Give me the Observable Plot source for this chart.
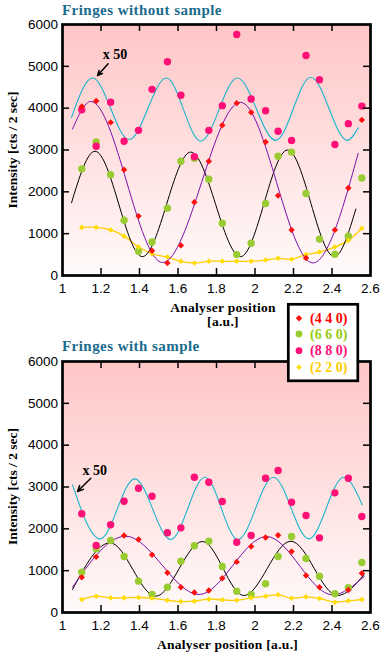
<!DOCTYPE html>
<html><head><meta charset="utf-8">
<script src="https://cdn.jsdelivr.net/npm/d3@7"></script>
<script src="https://cdn.jsdelivr.net/npm/@observablehq/plot@0.6"></script>
<style>
body{margin:0;background:#fff;}
#wrap{position:relative;width:384px;height:660px;overflow:hidden;}
#wrap svg{position:absolute;left:0;}
</style></head><body>
<div id="wrap"></div>
<script>
// ---------- data ----------
const xs = [1.10,1.175,1.25,1.32,1.395,1.465,1.545,1.615,1.685,1.76,1.83,1.905,1.98,2.055,2.12,2.19,2.265,2.335,2.415,2.485,2.555];
const xTicks = [1,1.2,1.4,1.6,1.8,2,2.2,2.4,2.6];
const yTicks = [0,1000,2000,3000,4000,5000,6000];

// Panel A: fringes without sample
const a440 = [4040,4170,3660,2530,1420,590,300,720,1750,2730,3590,4120,3900,3190,1910,1090,420,null,1090,2090,3720];
const a660 = [2550,3190,2410,1320,580,800,1610,2730,2800,2300,1250,500,770,1720,2850,2950,1960,870,510,940,2330];
const a880 = [3960,3090,4140,3210,3470,4450,5110,4310,2840,3470,4060,5760,4220,3940,3450,3230,5260,4680,3130,3630,4050];
const a220 = [1150,1150,1090,940,680,520,440,340,300,340,340,340,340,370,410,390,500,560,680,840,1130];
const aCyanX = [1.047,1.156,1.346,1.540,1.718,1.908,2.108,2.290,2.480,2.536];
const aCyanY = [3780,4720,3250,4720,3210,4720,3230,4740,3230,3530];
const aPurpX = [1.052,1.147,1.520,1.925,2.300,2.536];
const aPurpY = [3500,4160,310,4140,300,2920];
const aBlkX  = [1.047,1.169,1.415,1.666,1.925,2.169,2.412,2.524];
const aBlkY  = [1740,2970,450,2950,450,3000,450,1590];
const aNote = [{x:1.209, y:5290, label:"x 50", x1:1.237, y1:5060, x2:1.182, y2:4780}];

// Panel B: fringes with sample
const b440 = [840,1330,null,1840,1745,1380,950,605,478,526,820,1210,1577,1793,1848,1458,884,605,null,537,940];
const b660 = [964,1522,1721,1338,749,430,605,1226,1594,1704,1099,509,430,686,1338,1816,1291,868,447,590,1195];
const b880 = [2359,1601,2096,2660,2971,2780,1905,2024,3234,3115,2653,1681,1840,3210,3394,2637,2318,1785,2860,3210,2294];
const b220 = [311,390,350,350,359,342,294,263,271,318,303,294,350,390,422,342,374,335,246,279,311];
const bCyanX = [1.052,1.195,1.375,1.562,1.740,1.911,2.095,2.280,2.461,2.557];
const bCyanY = [3050,1760,3195,1745,3234,1745,3234,1760,3234,2574];
const bPurpX = [1.052,1.328,1.709,2.060,2.403,2.567];
const bPurpY = [605,1824,430,1816,423,860];
const bBlkX  = [1.052,1.247,1.484,1.727,1.942,2.186,2.429,2.567];
const bBlkY  = [550,1666,390,1697,406,1704,406,908];
const bNote = [{x:1.104, y:3390, label:"x 50", x1:1.147, y1:3210, x2:1.078, y2:2892}];

const legendLabels = ["(4 4 0)","(6 6 0)","(8 8 0)","(2 2 0)"];
const colors = {r440:"#ff1010", g660:"#99cc33", p880:"#ff1077", y220:"#ffdd00", y220line:"#ffcc00", cyan:"#1ab4cc", purple:"#7a10a8"};
const legendText = ["#ff0000","#99cc11","#ff1077","#ffcc00"];

// ---------- drawing ----------
const SERIF = '"Liberation Serif","Times New Roman",serif';
const pts = arr => xs.map((x,i)=>({x, y:arr[i]})).filter(d=>d.y!=null);
const crv = (cx,cy) => cx.map((x,i)=>({x, y:cy[i]}));

function panel(d, gid){
  const frameW = 384-62-14, frameH = 251;
  const svg = Plot.plot({
    width:384, height:300, marginTop:24, marginBottom:25, marginLeft:62, marginRight:14,
    x:{domain:[1,2.6]}, y:{domain:[0,6000]},
    style:{fontFamily:'"Liberation Sans",Arial,sans-serif', fontSize:"13.5px", color:"#000", background:"transparent", overflow:"visible"},
    marks:[
      Plot.frame({fill:`url(#${gid})`, stroke:null}),
      Plot.line(pts(d.y220), {x:"x", y:"y", stroke:colors.y220line, strokeWidth:1.3, curve:"catmull-rom"}),
      Plot.line(crv(d.blkX,d.blkY), {x:"x", y:"y", stroke:"#000", strokeWidth:1, curve:"monotone-x"}),
      Plot.line(crv(d.purpX,d.purpY), {x:"x", y:"y", stroke:colors.purple, strokeWidth:1, curve:"monotone-x"}),
      Plot.line(crv(d.cyanX,d.cyanY), {x:"x", y:"y", stroke:colors.cyan, strokeWidth:1.1, curve:"monotone-x"}),
      Plot.dot(pts(d.g660), {x:"x", y:"y", r:3.7, fill:colors.g660}),
      Plot.dot(pts(d.p880), {x:"x", y:"y", r:3.7, fill:colors.p880}),
      Plot.dot(pts(d.y220), {x:"x", y:"y", r:2.5, symbol:"diamond2", fill:colors.y220}),
      Plot.dot(pts(d.r440), {x:"x", y:"y", r:2.9, symbol:"diamond2", fill:colors.r440}),
      Plot.arrow(d.note, {x1:"x1", y1:"y1", x2:"x2", y2:"y2", stroke:"#000", strokeWidth:1.5, headLength:7, headAngle:50}),
      Plot.text(d.note, {x:"x", y:"y", text:"label", textAnchor:"start", fontFamily:SERIF, fontWeight:"bold", fontSize:14}),
      // inward ticks on all four sides
      Plot.tickX(xTicks.slice(1,-1), {x:d=>d, stroke:"#000", strokeWidth:1.5, insetTop:frameH-7}),
      Plot.tickX(xTicks.slice(1,-1), {x:d=>d, stroke:"#000", strokeWidth:1.5, insetBottom:frameH-7}),
      Plot.tickY(yTicks.slice(1,-1), {y:d=>d, stroke:"#000", strokeWidth:1.5, insetRight:frameW-7}),
      Plot.tickY(yTicks.slice(1,-1), {y:d=>d, stroke:"#000", strokeWidth:1.5, insetLeft:frameW-7}),
      Plot.frame({stroke:"#000", strokeWidth:2.7}),
      Plot.axisX({ticks:xTicks, tickSize:0, tickPadding:8, tickFormat:v=>String(v), label:null}),
      Plot.axisY({ticks:yTicks, tickSize:0, tickPadding:4.5, tickFormat:v=>String(v), label:null})
    ]
  });
  const ns="http://www.w3.org/2000/svg";
  const defs=document.createElementNS(ns,"defs");
  defs.innerHTML=`<linearGradient id="${gid}" x1="0" y1="0" x2="0" y2="1"><stop offset="0" stop-color="#ffc6c6"/><stop offset="0.5" stop-color="#ffe0e0"/><stop offset="1" stop-color="#fffafa"/></linearGradient>`;
  svg.insertBefore(defs, svg.firstChild);
  return svg;
}

const wrap = document.getElementById("wrap");
const s1 = panel({r440:a440,g660:a660,p880:a880,y220:a220,cyanX:aCyanX,cyanY:aCyanY,purpX:aPurpX,purpY:aPurpY,blkX:aBlkX,blkY:aBlkY,note:aNote}, "bgTop");
s1.style.top = "0px";
wrap.appendChild(s1);
const s2 = panel({r440:b440,g660:b660,p880:b880,y220:b220,cyanX:bCyanX,cyanY:bCyanY,purpX:bPurpX,purpY:bPurpY,blkX:bBlkX,blkY:bBlkY,note:bNote}, "bgBot");
s2.style.top = "337px";
wrap.appendChild(s2);

// overlay: titles, axis titles, legend
const ov = d3.select(wrap).append("svg").attr("width",384).attr("height",660).style("top","0px");
const tcol = "#1a6b8c";
ov.append("text").attr("x",62).attr("y",14.5).text("Fringes without sample")
  .attr("font-family",SERIF).attr("font-weight","bold").attr("font-size",15).attr("letter-spacing",0.45).attr("fill",tcol);
ov.append("text").attr("x",62).attr("y",350.5).text("Fringes with sample")
  .attr("font-family",SERIF).attr("font-weight","bold").attr("font-size",15).attr("letter-spacing",0.45).attr("fill",tcol);
const lab = (x,y,t,rot) => {
  const e = ov.append("text").attr("text-anchor","middle").text(t)
    .attr("font-family",SERIF).attr("font-weight","bold").attr("font-size",13.5).attr("letter-spacing",0.3).attr("fill","#000");
  if (rot) e.attr("transform",`translate(${x},${y}) rotate(-90)`).attr("letter-spacing",0);
  else e.attr("x",x).attr("y",y);
};
lab(223,311.7,"Analyser position");
lab(223,325.5,"[a.u.]");
lab(227.5,648.7,"Analyser position [a.u.]");
lab(16.5,150,"Intensity [cts / 2 sec]",true);
lab(16.5,486.5,"Intensity [cts / 2 sec]",true);

// legend
ov.append("rect").attr("x",288.3).attr("y",304.3).attr("width",69.5).attr("height",76.5)
  .attr("fill","#fff").attr("stroke","#000").attr("stroke-width",2.7);
const rows = [318.3,334,350.7,367.3];
const legSym = [
  {sym:d3.symbolDiamond2, size:Math.PI*2.9*2.9, fill:colors.r440},
  {sym:d3.symbolCircle, size:Math.PI*3.4*3.4, fill:colors.g660},
  {sym:d3.symbolCircle, size:Math.PI*3.4*3.4, fill:colors.p880},
  {sym:d3.symbolDiamond2, size:Math.PI*2.5*2.5, fill:colors.y220}
];
legendLabels.forEach((t,i)=>{
  ov.append("path").attr("d", d3.symbol(legSym[i].sym, legSym[i].size)()).attr("transform",`translate(299,${rows[i]})`).attr("fill",legSym[i].fill);
  ov.append("text").attr("x",310).attr("y",rows[i]+4.6).text(t)
    .attr("font-family",SERIF).attr("font-weight","bold").attr("font-size",14).attr("fill",legendText[i]);
});
</script>
</body></html>
